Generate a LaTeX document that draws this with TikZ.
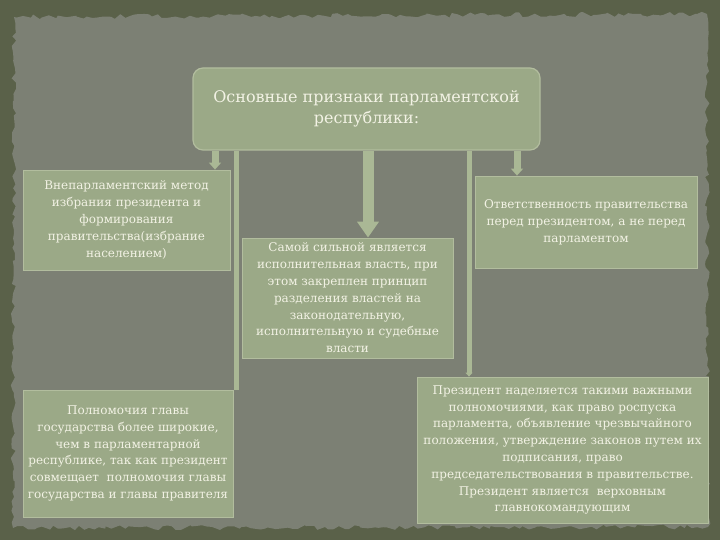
\documentclass[tikz,border=0pt]{standalone}
\usepackage{fontspec}
\setmainfont{DejaVu Serif}
\usetikzlibrary{arrows.meta,decorations.pathmorphing,shadows}
\definecolor{outerbg}{HTML}{5A6149}
\definecolor{paper}{HTML}{7C8074}
\definecolor{boxfill}{HTML}{9BA987}
\definecolor{boxline}{HTML}{B2BD9E}
\definecolor{txt}{HTML}{F2F2E4}
\definecolor{arrowc}{HTML}{AAB895}
\tikzset{
  infobox/.style={draw=boxline, line width=0.8pt, fill=boxfill, text=txt, align=center,
    inner sep=0pt, font=\fontsize{12}{16.8}\selectfont},
  titlebox/.style={infobox, rounded corners=10pt, draw=boxline, line width=1.2pt,
    font=\fontsize{16}{21.5}\selectfont},
  bigarrow/.style={arrowc, line width=11pt, -{Triangle[width=21pt,length=16pt]}},
  smallarrow/.style={arrowc, line width=7pt, -{Triangle[width=12pt,length=7pt]}},
  bar/.style={arrowc, line width=5pt, -{Triangle[width=7pt,length=4pt]}},
  plainbar/.style={arrowc, line width=5pt},
}
\begin{document}
\begin{tikzpicture}[x=1pt,y=-1pt]
\useasboundingbox (0,0) rectangle (720,540);
\fill[outerbg] (0,0) rectangle (720,540);
\fill[paper, decorate, decoration={random steps, segment length=5pt, amplitude=2.5pt}]
  (14,17) -- (707,14) -- (708,527) -- (13,528) -- cycle;
% boxes
\node[titlebox, minimum width=347pt, minimum height=82pt] (top) at (366.5,109) {Основные признаки парламентской\\республики:};
\node[infobox, minimum width=207pt, minimum height=100pt] (lt) at (126.5,220) {Внепарламентский метод\\избрания президента и\\формирования\\правительства(избрание\\населением)};
\node[infobox, minimum width=211pt, minimum height=120pt] (mid) at (347.5,298) {Самой сильной является\\исполнительная власть, при\\этом закреплен принцип\\разделения властей на\\законодательную,\\исполнительную и судебные\\власти};
\node[infobox, minimum width=222pt, minimum height=92pt] (rt) at (586,222) {Ответственность правительства\\перед президентом, а не перед\\парламентом};
\node[infobox, minimum width=210pt, minimum height=127pt] (lb) at (128,453.5) {Полномочия главы\\государства более широкие,\\чем в парламентарной\\республике, так как президент\\совмещает\ \ полномочия главы\\государства и главы правителя};
\node[infobox, minimum width=291pt, minimum height=146pt] (rb) at (562.5,450) {Президент наделяется такими важными\\полномочиями, как право роспуска\\парламента, объявление чрезвычайного\\положения, утверждение законов путем их\\подписания, право\\председательствования в правительстве.\\Президент является\ \ верховным\\главнокомандующим};
% connectors
\coordinate (c1) at (215,151);
\coordinate (c2) at (236,151);
\coordinate (c3) at (368,151);
\coordinate (c4) at (469,151);
\coordinate (c5) at (517,151);
\draw[smallarrow] (c1) -- (c1 |- lt.north);
\draw[plainbar] (c2) -- (c2 |- lb.north);
\draw[bigarrow] (c3) -- (c3 |- mid.north);
\draw[bar] (c4) -- (c4 |- rb.north);
\draw[smallarrow] (c5) -- (c5 |- rt.north);
\end{tikzpicture}
\end{document}
